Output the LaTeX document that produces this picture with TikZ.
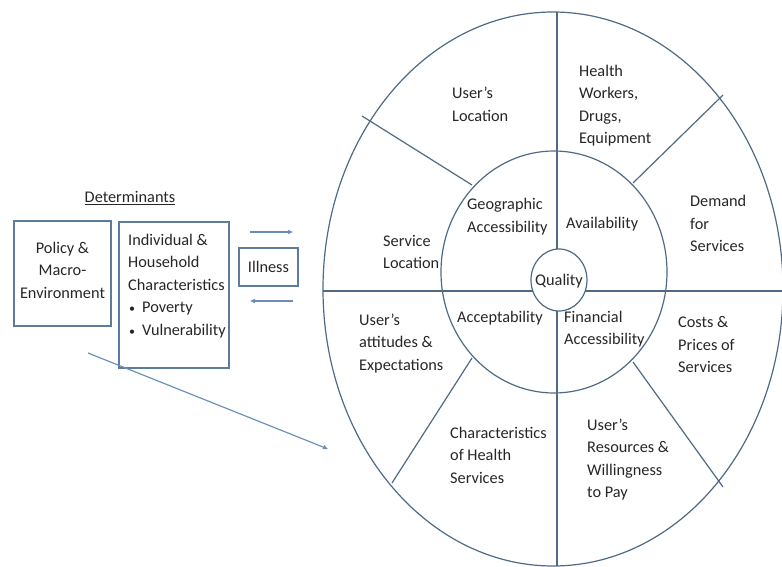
\documentclass[tikz,border=0pt]{standalone}
\usepackage{fontspec}
\setmainfont{Carlito}
\usetikzlibrary{arrows.meta}
\definecolor{inktext}{HTML}{262626}
\definecolor{ringline}{HTML}{4E6A84}
\definecolor{boxline}{HTML}{5D7C9B}
\definecolor{flowline}{HTML}{6A8DB6}
\newcommand{\smallbullet}{{\fontsize{12}{12}\selectfont\textbullet}}
\begin{document}
\begin{tikzpicture}[x=1pt,y=-1pt,
  txt/.style={inner sep=0pt,align=left,text=inktext,font=\fontsize{16.3}{22.5}\selectfont},
  ctxt/.style={txt,align=center},
  ring/.style={draw=ringline,line width=1.2pt},
  detbox/.style={draw=boxline,line width=1.3pt},
  flow/.style={draw=flowline,line width=1.2pt,-{Triangle[length=5pt,width=4pt]}}]
\useasboundingbox (0,0) rectangle (782,567);
\clip (0,0) rectangle (782,567);

% ---- determinants on the left ----
\node[ctxt] (det) at (130,198) {\underline{Determinants}};
\draw[detbox] (14,221) rectangle (111,326);
\node[ctxt] (policy) at (62.5,270) {Policy \&\\Macro-\\Environment};
\draw[detbox] (119,222) rectangle (229,368);
\node[txt,anchor=west] (indiv) at (128,286) {Individual \&\\Household\\Characteristics\\
  \hspace*{1pt}\smallbullet\hspace{7pt}Poverty\\
  \hspace*{1pt}\smallbullet\hspace{7pt}Vulnerability};
\draw[detbox] (239,248) rectangle (298,286);
\node[ctxt] (ill) at (268.5,267) {Illness};

\coordinate (fa) at (250,232);
\coordinate (fb) at (293,232);
\coordinate (ba) at (293,301);
\coordinate (bb) at (250,301);
\draw[flow] (fa) -- (fb);
\draw[flow] (ba) -- (bb);
\coordinate (la) at (88,353);
\coordinate (lb) at (328,449);
\draw[flow] (la) -- (lb);

% ---- access wheel ----
\draw[ring] (553,289) ellipse [x radius=230,y radius=277];
\draw[ring] (554,272) ellipse [x radius=113,y radius=121];
\draw[ring] (559,280) ellipse [x radius=28,y radius=31];

\draw[ring] (557,12) -- (557,249);
\draw[ring] (557,311) -- (557,566);
\draw[ring] (323,291) -- (533,291);
\draw[ring] (585,291) -- (783,291);
\draw[ring] (362,116) -- (472,185);
\draw[ring] (723,95) -- (633,183);
\draw[ring] (472,358) -- (392,483);
\draw[ring] (633,362) -- (723,487);

\node[ctxt] (quality) at (559,281) {Quality};

\node[txt,anchor=west] (uloc) at (452,104.5) {User’s\\Location};
\node[txt,anchor=west] (hw) at (579,105.5) {Health\\Workers,\\Drugs,\\Equipment};
\node[txt,anchor=west] (dem) at (690,223.5) {Demand\\for\\Services};
\node[txt,anchor=west] (geo) at (467,216.5) {Geographic\\Accessibility};
\node[txt,anchor=west] (avail) at (566,224) {Availability};
\node[txt,anchor=west] (sloc) at (383,252) {Service\\Location};
\node[txt,anchor=west] (att) at (359,343.5) {User’s\\attitudes \&\\Expectations};
\node[txt,anchor=west] (acc) at (457,318) {Acceptability};
\node[txt,anchor=west] (fin) at (564,329) {Financial\\Accessibility};
\node[txt,anchor=west] (cost) at (678,344.5) {Costs \&\\Prices of\\Services};
\node[txt,anchor=west] (char) at (450,455) {Characteristics\\of Health\\Services};
\node[txt,anchor=west] (res) at (587,459.5) {User’s\\Resources \&\\Willingness\\to Pay};
\end{tikzpicture}
\end{document}
